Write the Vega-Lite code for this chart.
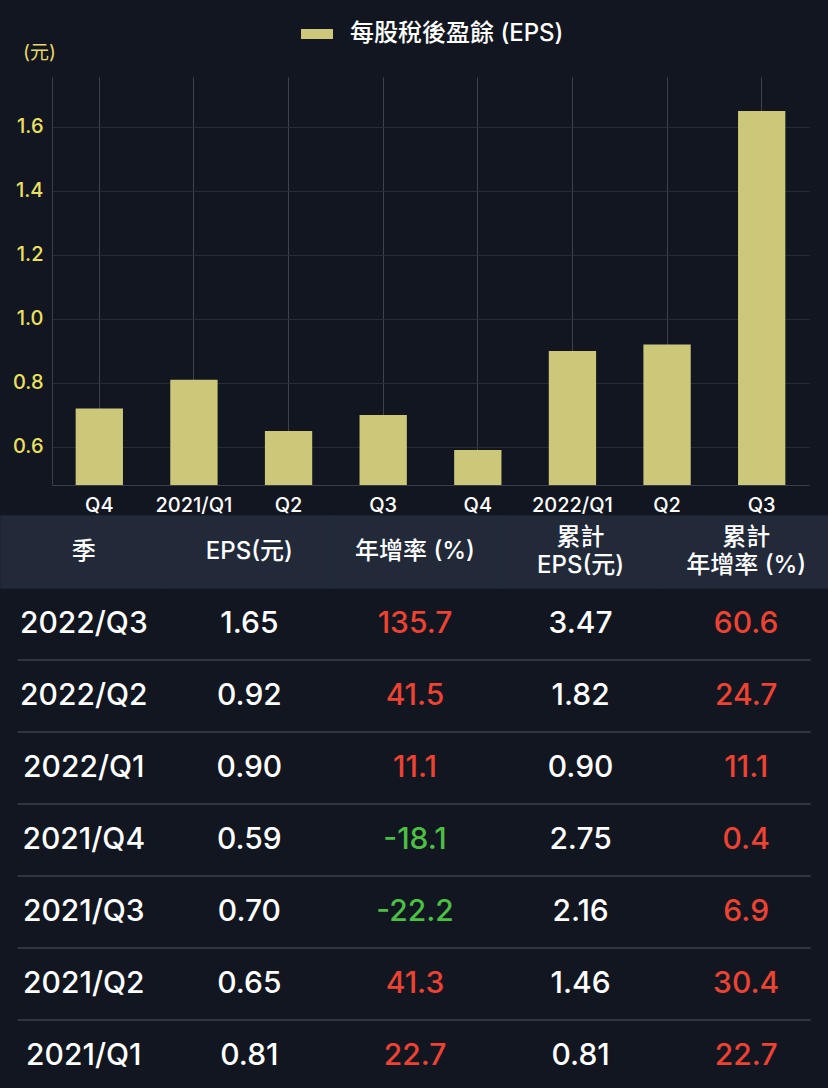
{
  "$schema": "https://vega.github.io/schema/vega-lite/v6.json",
  "background": "#121620",
  "padding": {"left": 0, "top": 18, "right": 0, "bottom": 0},
  "spacing": 0,
  "config": {
    "view": {"stroke": null},
    "font": "Inter, Noto Sans CJK TC",
    "concat": {"spacing": 0},
    "locale": {"number": {"decimal": ".", "thousands": ",", "grouping": [3], "currency": ["$", ""], "minus": "-"}}
  },
  "resolve": {"scale": {"color": "independent"}, "legend": {"color": "independent"}},
  "vconcat": [
    {
      "width": 757,
      "height": 408,
      "data": {"values": [
        {"period": "2020/Q4", "eps": 0.72},
        {"period": "2021/Q1", "eps": 0.81},
        {"period": "2021/Q2", "eps": 0.65},
        {"period": "2021/Q3", "eps": 0.70},
        {"period": "2021/Q4", "eps": 0.59},
        {"period": "2022/Q1", "eps": 0.90},
        {"period": "2022/Q2", "eps": 0.92},
        {"period": "2022/Q3", "eps": 1.65}
      ]},
      "mark": {"type": "bar", "clip": true},
      "encoding": {
        "x": {
          "field": "period", "type": "ordinal", "sort": null,
          "scale": {"paddingInner": 0.5, "paddingOuter": 0.25},
          "axis": {
            "title": null, "labelAngle": 0, "labelColor": "#ffffff", "labelFontSize": 20,
            "labelFont": "Inter", "labelFontWeight": 500, "labelPadding": 10, "ticks": false,
            "domainColor": "#3a3f48", "grid": true, "gridColor": "#3d424b", "gridWidth": 1,
            "minExtent": 29, "maxExtent": 29,
            "labelExpr": "indexof(datum.value,'Q1')>=0 ? datum.value : substring(datum.value,5)"
          }
        },
        "y": {
          "field": "eps", "type": "quantitative",
          "scale": {"domain": [0.481, 1.756], "zero": false, "nice": false},
          "axis": {
            "title": "(元)", "titleAngle": 0, "titleX": -13, "titleY": -25,
            "titleAlign": "center", "titleBaseline": "middle", "titleColor": "#e6d86a",
            "titleFontSize": 19, "titleFontWeight": "normal",
            "values": [0.6, 0.8, 1.0, 1.2, 1.4, 1.6], "format": ".1f",
            "labelColor": "#ece063", "labelFontSize": 20, "labelFontWeight": 500, "labelPadding": 9,
            "ticks": false, "domainColor": "#3a3f48", "gridColor": "#272c36",
            "minExtent": 51, "maxExtent": 51
          }
        },
        "color": {
          "datum": "每股稅後盈餘 (EPS)", "type": "nominal",
          "scale": {"range": ["#cdc77a"]},
          "legend": {
            "title": null, "orient": "none", "legendX": 249, "legendY": -59,
            "symbolType": "M-1,-0.3125H1V0.3125H-1Z", "symbolSize": 1024,
            "symbolStrokeWidth": 0, "symbolOpacity": 1, "labelLimit": 500,
            "labelColor": "#ffffff", "labelFontSize": 24, "labelOffset": 17,
            "labelFontWeight": 500, "padding": 0, "labelFont": "Inter, Noto Sans CJK TC"
          }
        }
      }
    },
    {
      "width": 777,
      "height": 576,
      "data": {"values": [
        {"q": "2022/Q3", "eps": 1.65, "yoy": 135.7, "cum": 3.47, "cumyoy": 60.6},
        {"q": "2022/Q2", "eps": 0.92, "yoy": 41.5, "cum": 1.82, "cumyoy": 24.7},
        {"q": "2022/Q1", "eps": 0.90, "yoy": 11.1, "cum": 0.90, "cumyoy": 11.1},
        {"q": "2021/Q4", "eps": 0.59, "yoy": -18.1, "cum": 2.75, "cumyoy": 0.4},
        {"q": "2021/Q3", "eps": 0.70, "yoy": -22.2, "cum": 2.16, "cumyoy": 6.9},
        {"q": "2021/Q2", "eps": 0.65, "yoy": 41.3, "cum": 1.46, "cumyoy": 30.4},
        {"q": "2021/Q1", "eps": 0.81, "yoy": 22.7, "cum": 0.81, "cumyoy": 22.7}
      ]},
      "layer": [
        {
          "data": {"values": [{"col": "季"}, {"col": "EPS"}, {"col": "年增率"}, {"col": "累計EPS"}, {"col": "累計年增率"}]},
          "mark": {"type": "rect", "color": "#222a3a", "stroke": "#222a3a", "strokeWidth": 1.5},
          "encoding": {
            "x": {"field": "col", "type": "nominal",
              "scale": {"type": "band", "domain": ["季", "EPS", "年增率", "累計EPS", "累計年增率"], "range": [-51, 777], "paddingInner": 0, "paddingOuter": 0},
              "axis": null},
            "y": {"datum": "header", "type": "nominal",
              "scale": {"type": "band", "domain": ["header", "2022/Q3", "2022/Q2", "2022/Q1", "2021/Q4", "2021/Q3", "2021/Q2", "2021/Q1"], "paddingInner": 0, "paddingOuter": 0},
              "axis": null}
          }
        },
        {
          "data": {"values": [{"q": "2022/Q2"}, {"q": "2022/Q1"}, {"q": "2021/Q4"}, {"q": "2021/Q3"}, {"q": "2021/Q2"}, {"q": "2021/Q1"}]},
          "mark": {"type": "rule", "color": "#30353f", "strokeWidth": 2},
          "encoding": {
            "y": {"field": "q", "type": "nominal", "bandPosition": 0, "axis": null},
            "x": {"datum": "季", "type": "nominal", "bandPosition": 0.1, "axis": null},
            "x2": {"datum": "累計年增率", "bandPosition": 0.89}
          }
        },
        {
          "data": {"values": [
            {"col": "季", "label": "季"},
            {"col": "EPS", "label": "EPS(元)"},
            {"col": "年增率", "label": "年增率 (%)"}
          ]},
          "mark": {"type": "text", "fontSize": 24, "color": "#ffffff", "fontWeight": 500, "baseline": "middle"},
          "encoding": {
            "x": {"field": "col", "type": "nominal", "axis": null},
            "y": {"datum": "header", "type": "nominal", "axis": null},
            "text": {"field": "label"}
          }
        },
        {
          "data": {"values": [
            {"col": "累計EPS", "label": "累計\nEPS(元)"},
            {"col": "累計年增率", "label": "累計\n年增率 (%)"}
          ]},
          "mark": {"type": "text", "lineBreak": "\n", "fontSize": 24, "color": "#ffffff", "lineHeight": 28, "fontWeight": 500, "baseline": "middle", "dy": -14},
          "encoding": {
            "x": {"field": "col", "type": "nominal", "axis": null},
            "y": {"datum": "header", "type": "nominal", "axis": null},
            "text": {"field": "label"}
          }
        },
        {
          "mark": {"type": "text", "fontSize": 30, "color": "#ffffff", "fontWeight": 500, "baseline": "middle"},
          "encoding": {
            "x": {"datum": "季", "type": "nominal", "axis": null},
            "y": {"field": "q", "type": "nominal", "axis": null},
            "text": {"field": "q"}
          }
        },
        {
          "mark": {"type": "text", "fontSize": 30, "color": "#ffffff", "fontWeight": 500, "baseline": "middle"},
          "encoding": {
            "x": {"datum": "EPS", "type": "nominal", "axis": null},
            "y": {"field": "q", "type": "nominal", "axis": null},
            "text": {"field": "eps", "format": ".2f"}
          }
        },
        {
          "mark": {"type": "text", "fontSize": 30, "fontWeight": 500, "baseline": "middle"},
          "encoding": {
            "x": {"datum": "年增率", "type": "nominal", "axis": null},
            "y": {"field": "q", "type": "nominal", "axis": null},
            "text": {"field": "yoy", "format": ".1f"},
            "color": {"condition": {"test": "datum.yoy < 0", "value": "#4cbf45"}, "value": "#ee4233"}
          }
        },
        {
          "mark": {"type": "text", "fontSize": 30, "color": "#ffffff", "fontWeight": 500, "baseline": "middle"},
          "encoding": {
            "x": {"datum": "累計EPS", "type": "nominal", "axis": null},
            "y": {"field": "q", "type": "nominal", "axis": null},
            "text": {"field": "cum", "format": ".2f"}
          }
        },
        {
          "mark": {"type": "text", "fontSize": 30, "fontWeight": 500, "baseline": "middle"},
          "encoding": {
            "x": {"datum": "累計年增率", "type": "nominal", "axis": null},
            "y": {"field": "q", "type": "nominal", "axis": null},
            "text": {"field": "cumyoy", "format": ".1f"},
            "color": {"condition": {"test": "datum.cumyoy < 0", "value": "#4cbf45"}, "value": "#ee4233"}
          }
        }
      ]
    }
  ]
}
